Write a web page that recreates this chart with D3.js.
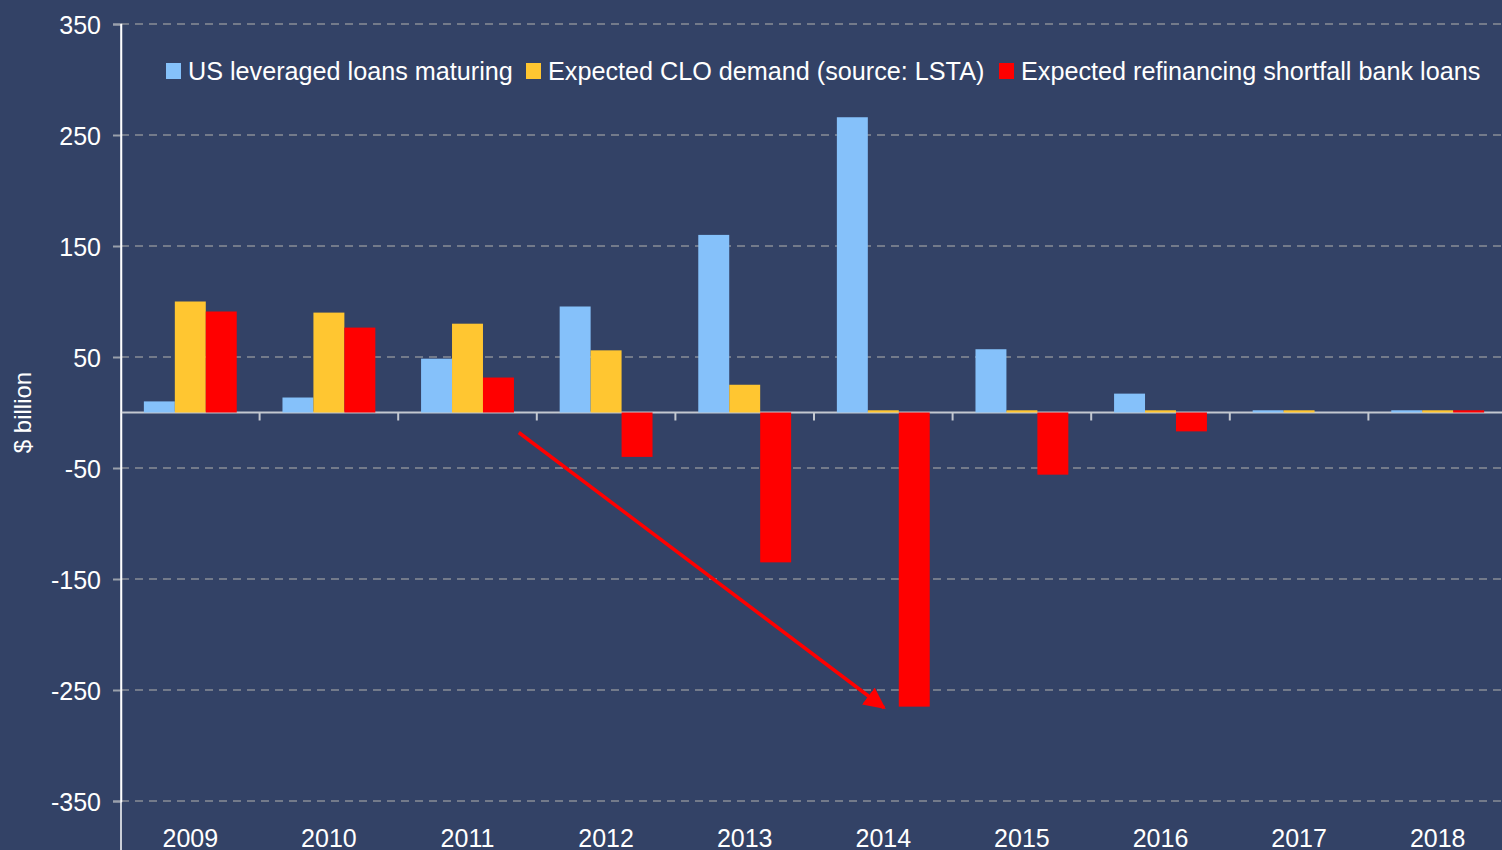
<!DOCTYPE html>
<html>
<head>
<meta charset="utf-8">
<script src="https://cdn.jsdelivr.net/npm/d3@7"></script>
<style>
  html, body { margin: 0; padding: 0; background: #334266; }
  svg { display: block; }
  text { font-family: "Liberation Sans", Arial, sans-serif; fill: #ffffff; }
</style>
</head>
<body>
<svg id="chart" width="1502" height="850"></svg>
<script>
const years = ["2009","2010","2011","2012","2013","2014","2015","2016","2017","2018"];
const seriesNames = ["US leveraged loans maturing", "Expected CLO demand (source: LSTA)", "Expected refinancing shortfall bank loans"];
const loansMaturing = [10, 13.5, 48.5, 95.5, 160, 266, 57, 17, 2, 2];
const cloDemand = [100, 90, 80, 56, 25, 2, 2, 2, 2, 2];
const shortfall = [91, 76.5, 31.5, -40, -135, -265, -56, -17, 0, 2];
const yTicks = [350, 250, 150, 50, -50, -150, -250, -350];
const arrowFrom = { year: "2011", frac: 0.87, value: -18 };
const arrowTo = { year: "2014", frac: 0.505, value: -266 };

const colors = ["#85c1fa", "#ffc631", "#ff0000"];
const svg = d3.select("#chart");
const W = 1502, H = 850;
const mLeft = 121, mRight = 1507, mTop = 24, mBottom = 801;

svg.append("rect").attr("width", W).attr("height", H).attr("fill", "#334266");

const x = d3.scaleBand().domain(years).range([mLeft, mRight]).paddingInner(0.33).paddingOuter(0.165);
const xb = d3.scaleBand().domain(years).range([mLeft, mRight]);
const y = d3.scaleLinear().domain([-350, 350]).range([mBottom, mTop]);
const xs = d3.scaleBand().domain([0,1,2]).range([0, x.bandwidth()]);

// gridlines
svg.append("g").selectAll("line").data(yTicks).join("line")
  .attr("x1", mLeft).attr("x2", W)
  .attr("y1", d => y(d)).attr("y2", d => y(d))
  .attr("stroke", "#737a8a").attr("stroke-width", 2).attr("stroke-dasharray", "8,6");

// y axis
const yAxis = d3.axisLeft(y).tickValues(yTicks).tickSize(8).tickPadding(12).tickFormat(d => String(d));
const gy = svg.append("g").attr("transform", `translate(${mLeft},0)`).call(yAxis);
gy.select(".domain").attr("stroke", "#ffffff").attr("stroke-width", 1.5);
gy.selectAll(".tick line").attr("stroke", "#9aa0ab").attr("stroke-width", 2);
gy.selectAll(".tick text").attr("font-size", 25).attr("fill", "#ffffff").attr("dy", "0.36em")
  .style("font-family", '"Liberation Sans", Arial, sans-serif');

// zero axis line (behind bars so thin bars show)
svg.append("line").attr("x1", mLeft).attr("x2", W).attr("y1", y(0)).attr("y2", y(0))
  .attr("stroke", "#c4c8d0").attr("stroke-width", 2);

// bars
const data = years.map((yr, i) => ({ yr, vals: [loansMaturing[i], cloDemand[i], shortfall[i]] }));
const groups = svg.append("g").selectAll("g").data(data).join("g")
  .attr("transform", d => `translate(${x(d.yr)},0)`);
groups.selectAll("rect").data(d => d.vals.map((v, k) => ({ v, k }))).join("rect")
  .attr("x", d => xs(d.k))
  .attr("width", xs.bandwidth())
  .attr("y", d => y(Math.max(0, d.v)))
  .attr("height", d => Math.abs(y(d.v) - y(0)))
  .attr("fill", d => colors[d.k]);

// category ticks
const bounds = years.map(d => xb(d)).concat([mRight]);
svg.append("g").selectAll("line").data(bounds.slice(1)).join("line")
  .attr("x1", d => d).attr("x2", d => d)
  .attr("y1", y(0)).attr("y2", y(0) + 8)
  .attr("stroke", "#c4c8d0").attr("stroke-width", 2);

// category labels
svg.append("g").selectAll("text").data(years).join("text")
  .attr("x", d => xb(d) + xb.bandwidth() / 2)
  .attr("y", 847)
  .attr("text-anchor", "middle")
  .attr("font-size", 25)
  .text(d => d);

// y title
svg.append("text")
  .attr("transform", `translate(31,${y(0)}) rotate(-90)`)
  .attr("text-anchor", "middle")
  .attr("font-size", 24)
  .text("$ billion");

// y axis line on top
svg.append("line").attr("x1", mLeft).attr("x2", mLeft).attr("y1", mTop).attr("y2", H)
  .attr("stroke", "#ffffff").attr("stroke-width", 1.5);

// legend
const legendItems = [
  { name: seriesNames[0], x: 166 },
  { name: seriesNames[1], x: 526 },
  { name: seriesNames[2], x: 999 }
];
const lg = svg.append("g").selectAll("g").data(legendItems).join("g")
  .attr("transform", d => `translate(${d.x},0)`);
lg.append("rect").attr("x", 0).attr("y", 63).attr("width", 15).attr("height", 16)
  .attr("fill", (d, i) => colors[i]);
lg.append("text").attr("x", 22).attr("y", 80).attr("font-size", 25.2).text(d => d.name);

// arrow
const defs = svg.append("defs");
defs.append("marker").attr("id", "ah").attr("viewBox", "0 0 10 10")
  .attr("refX", 9).attr("refY", 5).attr("markerWidth", 6.2).attr("markerHeight", 6)
  .attr("markerUnits", "strokeWidth").attr("orient", "auto")
  .attr("preserveAspectRatio", "none")
  .append("path").attr("d", "M0,0 L10,5 L0,10 Z").attr("fill", "#ff0000");
const ax1 = xb(arrowFrom.year) + arrowFrom.frac * xb.bandwidth();
const ax2 = xb(arrowTo.year) + arrowTo.frac * xb.bandwidth();
svg.append("line")
  .attr("x1", ax1).attr("y1", y(arrowFrom.value))
  .attr("x2", ax2).attr("y2", y(arrowTo.value))
  .attr("stroke", "#ff0000").attr("stroke-width", 3.5)
  .attr("marker-end", "url(#ah)");
</script>
</body>
</html>
